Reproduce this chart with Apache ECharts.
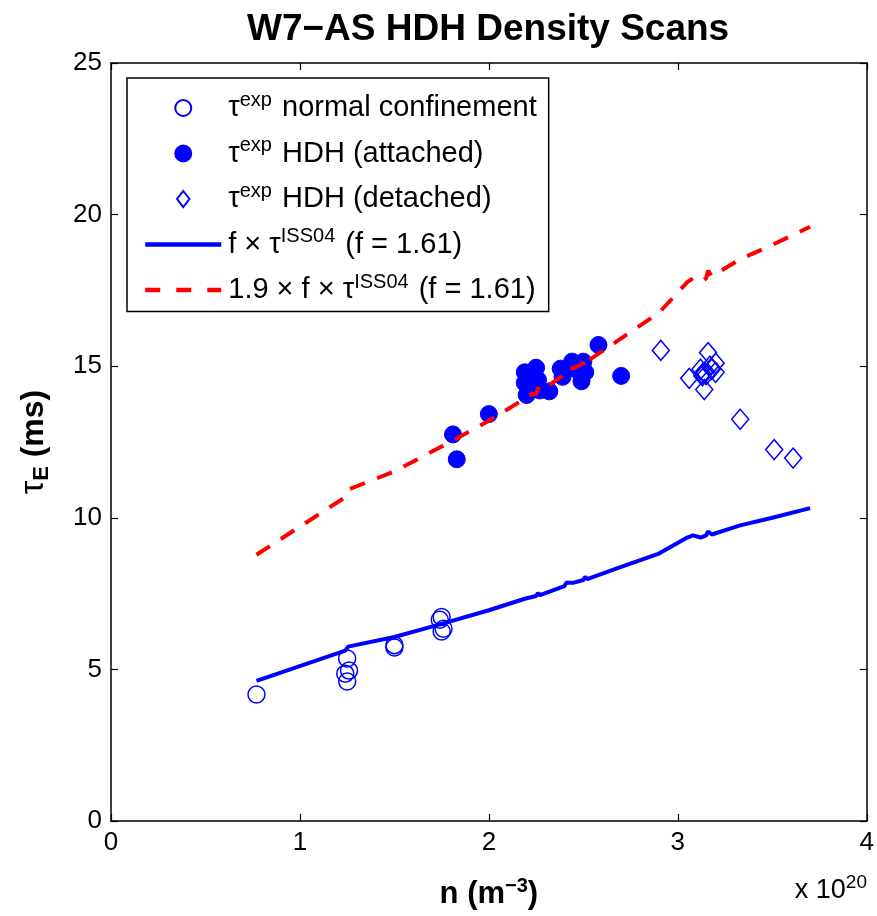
<!DOCTYPE html>
<html>
<head>
<meta charset="utf-8">
<script src="https://cdn.jsdelivr.net/npm/echarts@6/dist/echarts.min.js"></script>
<style>
  html, body { margin: 0; padding: 0; background: #fff; }
  #chart { width: 877px; height: 916px; }
</style>
</head>
<body>
<div id="chart"></div>
<script>
// n (x 10^20 m^-3), tau_E (ms)
const normalConf = [
  [0.77, 4.17], [1.25, 5.36], [1.26, 4.96], [1.24, 4.86], [1.25, 4.6],
  [1.5, 5.8], [1.5, 5.72], [1.75, 6.73], [1.74, 6.64], [1.76, 6.34], [1.75, 6.25],
]
const hdhAttached = [
  [1.81, 12.75], [1.83, 11.93], [2.0, 13.42], [2.19, 14.8], [2.21, 14.75],
  [2.19, 14.45], [2.2, 14.05], [2.25, 14.95], [2.24, 14.6], [2.26, 14.55],
  [2.27, 14.2], [2.32, 14.17], [2.38, 14.92], [2.39, 14.65], [2.44, 15.15],
  [2.46, 14.9], [2.5, 15.15], [2.51, 14.8], [2.49, 14.5], [2.58, 15.7], [2.7, 14.68],
]
const hdhDetached = [
  [2.91, 15.52], [3.06, 14.6], [3.12, 14.9], [3.13, 14.75], [3.15, 14.72],
  [3.14, 14.8], [3.13, 14.68], [3.14, 14.23], [3.16, 15.45], [3.17, 15.0],
  [3.2, 15.1], [3.2, 14.8], [3.18, 14.9], [3.33, 13.25], [3.51, 12.25], [3.61, 11.97],
]
const issModel = [
  [0.77, 4.62], [1.24, 5.62], [1.255, 5.75], [1.5, 6.07], [1.75, 6.5], [1.76, 6.52],
  [2.0, 6.95], [2.19, 7.33], [2.2, 7.3], [2.2, 7.38], [2.25, 7.42], [2.26, 7.52],
  [2.27, 7.45], [2.4, 7.75], [2.41, 7.86], [2.45, 7.86], [2.5, 7.95], [2.51, 8.06],
  [2.52, 7.98], [2.7, 8.38], [2.9, 8.82], [3.05, 9.35], [3.08, 9.42], [3.12, 9.35],
  [3.15, 9.42], [3.16, 9.55], [3.18, 9.45], [3.33, 9.75], [3.5, 10.0], [3.7, 10.32],
]
const issModelX19 = [
  [0.77, 8.78], [1.24, 10.68], [1.255, 10.93], [1.5, 11.53], [1.75, 12.35], [1.76, 12.39],
  [2.0, 13.2], [2.19, 13.93], [2.2, 13.87], [2.2, 14.02], [2.25, 14.1], [2.26, 14.29],
  [2.27, 14.16], [2.4, 14.73], [2.41, 14.93], [2.45, 14.93], [2.5, 15.1], [2.51, 15.31],
  [2.52, 15.16], [2.7, 15.92], [2.9, 16.76], [3.05, 17.77], [3.08, 17.9], [3.12, 17.77],
  [3.15, 17.9], [3.16, 18.15], [3.18, 17.96], [3.33, 18.53], [3.5, 19.0], [3.7, 19.6],
]
const xTicks = [0, 1, 2, 3, 4]
const yTicks = [0, 5, 10, 15, 20, 25]

const FONT = '"Liberation Sans", Arial, Helvetica, sans-serif'
const BLUE = '#0000ff'
const RED = '#ff0000'

const legendText = {
  normal: '{t|τ}{s|exp}{t| normal confinement}',
  attached: '{t|τ}{s|exp}{t| HDH (attached)}',
  detached: '{t|τ}{s|exp}{t| HDH (detached)}',
  model: '{t|f × τ}{s|ISS04}{t| (f = 1.61)}',
  model19: '{t|1.9 × f × τ}{s|ISS04}{t| (f = 1.61)}',
}
// narrow diamond centred in the 76px wide legend icon box
const diamondIcon = 'path://M0,8L0.01,8M76,8L75.99,8M38,-1L45,8L38,17L31,8Z'

const axisCommon = {
  type: 'value',
  axisLine: { show: true, onZero: false, lineStyle: { color: '#000', width: 1.5 } },
  axisTick: { show: true, inside: true, length: 7, lineStyle: { color: '#000', width: 1.2 } },
  splitLine: { show: false },
}

const chart = echarts.init(document.getElementById('chart'))
chart.setOption({
  animation: false,
  backgroundColor: '#fff',
  textStyle: { fontFamily: FONT },
  grid: { left: 111, right: 10, top: 63, bottom: 95 },
  xAxis: [
    {
      ...axisCommon,
      position: 'bottom',
      min: xTicks[0],
      max: xTicks[xTicks.length - 1],
      interval: 1,
      axisLabel: { color: '#000', fontSize: 26, fontFamily: FONT, margin: 9 },
      name: '{b|n (m}{s|−3}{b|)}',
      nameLocation: 'middle',
      nameGap: 55,
      nameTextStyle: {
        rich: {
          b: { fontSize: 31, fontWeight: 'bold', fontFamily: FONT, color: '#000' },
          s: { fontSize: 20, fontWeight: 'bold', fontFamily: FONT, color: '#000', padding: [0, 0, 16, 0] },
        },
      },
    },
    {
      ...axisCommon,
      position: 'top',
      min: xTicks[0],
      max: xTicks[xTicks.length - 1],
      interval: 1,
      axisLabel: { show: false },
    },
  ],
  yAxis: [
    {
      ...axisCommon,
      position: 'left',
      min: yTicks[0],
      max: yTicks[yTicks.length - 1],
      interval: 5,
      axisLabel: { color: '#000', fontSize: 26, fontFamily: FONT, margin: 9 },
      name: '{t|τ}{sub|E}{b| (ms)}',
      nameLocation: 'middle',
      nameRotate: 90,
      nameGap: 58,
      nameTextStyle: {
        rich: {
          t: { fontSize: 34, fontFamily: FONT, color: '#000' },
          sub: { fontSize: 22, fontWeight: 'bold', fontFamily: FONT, color: '#000', padding: [16, 0, 0, 0] },
          b: { fontSize: 32, fontWeight: 'bold', fontFamily: FONT, color: '#000' },
        },
      },
    },
    {
      ...axisCommon,
      position: 'right',
      min: yTicks[0],
      max: yTicks[yTicks.length - 1],
      interval: 5,
      axisLabel: { show: false },
    },
  ],
  legend: {
    orient: 'vertical',
    left: 127,
    top: 78,
    padding: [12, 12, 7, 16],
    itemGap: 13,
    itemWidth: 76,
    itemHeight: 16,
    borderColor: '#000',
    borderWidth: 1.5,
    borderRadius: 0,
    backgroundColor: '#fff',
    data: [
      { name: 'normal' },
      { name: 'attached' },
      { name: 'detached', icon: diamondIcon },
      { name: 'model', itemStyle: { opacity: 0 }, lineStyle: { width: 4.5 } },
      { name: 'model19', itemStyle: { opacity: 0 }, lineStyle: { width: 4.5, type: [15, 16] } },
    ],
    formatter: (name) => legendText[name],
    textStyle: {
      rich: {
        t: { fontSize: 29, fontFamily: FONT, color: '#000', lineHeight: 34, padding: [0, 0, 0, 2] },
        s: { fontSize: 20, fontFamily: FONT, color: '#000', padding: [0, 0, 16, 0] },
      },
    },
  },
  graphic: [
    {
      type: 'text',
      left: 247,
      top: 11,
      style: { text: 'W7−AS HDH Density Scans', font: `bold 37px ${FONT}`, fill: '#000' },
    },
    {
      type: 'text',
      right: 10,
      top: 873,
      style: {
        text: '{a|x 10}{b|20}',
        rich: {
          a: { fontSize: 27, fontFamily: FONT, fill: '#000' },
          b: { fontSize: 19, fontFamily: FONT, fill: '#000', padding: [0, 0, 16, 0] },
        },
      },
    },
  ],
  series: [
    {
      name: 'normal',
      type: 'scatter',
      data: normalConf,
      symbol: 'circle',
      symbolSize: 17,
      itemStyle: { color: 'rgba(0,0,0,0)', borderColor: BLUE, borderWidth: 1.5, opacity: 1 },
      z: 2,
    },
    {
      name: 'attached',
      type: 'scatter',
      data: hdhAttached,
      symbol: 'circle',
      symbolSize: 17,
      itemStyle: { color: BLUE, borderColor: BLUE, borderWidth: 1, opacity: 1 },
      z: 2,
    },
    {
      name: 'detached',
      type: 'scatter',
      data: hdhDetached,
      symbol: 'diamond',
      symbolSize: [17, 20],
      itemStyle: { color: 'rgba(0,0,0,0)', borderColor: BLUE, borderWidth: 1.5, opacity: 1 },
      z: 2,
    },
    {
      name: 'model',
      type: 'line',
      data: issModel,
      showSymbol: false,
      symbol: 'none',
      lineStyle: { color: BLUE, width: 4 },
      itemStyle: { color: BLUE },
      z: 3,
    },
    {
      name: 'model19',
      type: 'line',
      data: issModelX19,
      showSymbol: false,
      symbol: 'none',
      lineStyle: { color: RED, width: 4, type: [16, 13] },
      itemStyle: { color: RED },
      z: 3,
    },
  ],
})
</script>
</body>
</html>
